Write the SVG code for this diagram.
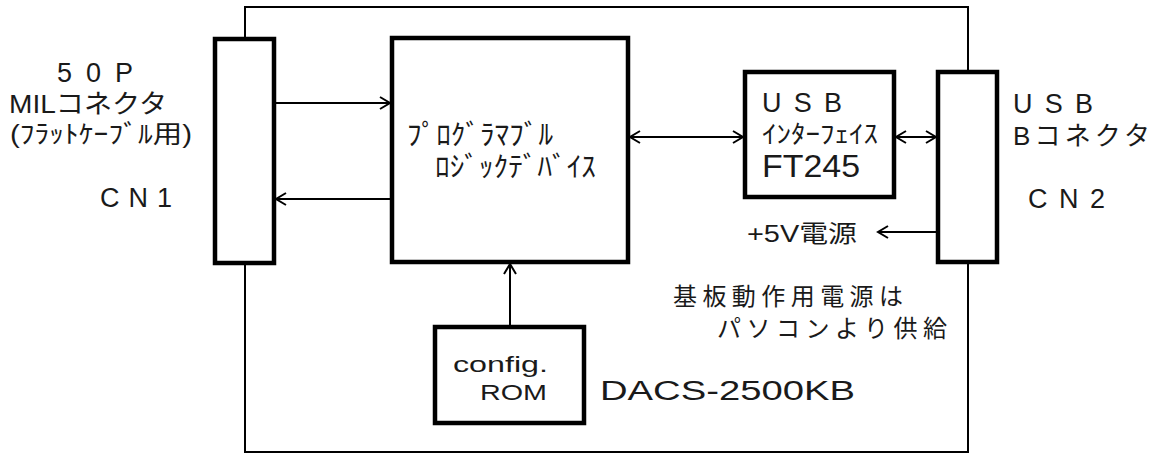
<svg xmlns="http://www.w3.org/2000/svg" width="1164" height="456" viewBox="0 0 1164 456">
<style>
.box{fill:#fff;stroke:#000;stroke-width:4.5}
.board{fill:none;stroke:#000;stroke-width:2}
.conn{fill:none;stroke:#000;stroke-width:2}
.t{font-family:"Liberation Sans","Noto Sans CJK JP",sans-serif;fill:#1a1a1a}
</style>
<defs>
<marker id="ah" markerUnits="userSpaceOnUse" markerWidth="14" markerHeight="14" refX="11" refY="7" orient="auto-start-reverse" viewBox="0 0 14 14">
<path d="M1,1 L11,7 L1,13" fill="none" stroke="#000" stroke-width="2"/>
</marker>
</defs>
<rect id="board" class="board" x="245" y="7" width="723" height="445"/>
<g id="connectors">
<line class="conn" x1="276" y1="103" x2="390" y2="103" marker-end="url(#ah)"/>
<line class="conn" x1="390" y1="199" x2="276" y2="199" marker-end="url(#ah)"/>
<line class="conn" x1="630" y1="137" x2="743" y2="137" marker-start="url(#ah)" marker-end="url(#ah)"/>
<line class="conn" x1="896" y1="137" x2="936" y2="137" marker-start="url(#ah)" marker-end="url(#ah)"/>
<line class="conn" x1="936" y1="232" x2="878" y2="232" marker-end="url(#ah)"/>
<line class="conn" x1="510" y1="325" x2="510" y2="264" marker-end="url(#ah)"/>
</g>
<g id="cn1">
<rect class="box" x="215" y="39" width="59" height="224"/>
</g>
<g id="pld">
<rect class="box" x="392" y="38" width="236" height="224"/>
<text class="t" x="407" y="145" font-size="28" textLength="146" lengthAdjust="spacingAndGlyphs">ﾌﾟﾛｸﾞﾗﾏﾌﾞﾙ</text>
<text class="t" x="435" y="177" font-size="28" textLength="161" lengthAdjust="spacingAndGlyphs">ﾛｼﾞｯｸﾃﾞﾊﾞｲｽ</text>
</g>
<g id="usbif">
<rect class="box" x="745" y="72" width="149" height="125"/>
<text class="t" x="762" y="112" font-size="27" textLength="80" lengthAdjust="spacing">USB</text>
<text class="t" x="762" y="143" font-size="25" textLength="116" lengthAdjust="spacingAndGlyphs">ｲﾝﾀｰﾌｪｲｽ</text>
<text class="t" x="762" y="177" font-size="31" textLength="98" lengthAdjust="spacingAndGlyphs">FT245</text>
</g>
<g id="cn2">
<rect class="box" x="938" y="72" width="59" height="190"/>
</g>
<g id="rom">
<rect class="box" x="435" y="327" width="149" height="96"/>
<text class="t" x="453" y="372" font-size="22" textLength="95" lengthAdjust="spacingAndGlyphs">config.</text>
<text class="t" x="480" y="400" font-size="22" textLength="67" lengthAdjust="spacingAndGlyphs">ROM</text>
</g>
<g id="labels">
<text class="t" x="57" y="82" font-size="27" textLength="76" lengthAdjust="spacing">50P</text>
<text class="t" x="9" y="113" font-size="26" textLength="158" lengthAdjust="spacingAndGlyphs">MILコネクタ</text>
<text class="t" x="10" y="143" font-size="25" textLength="182" lengthAdjust="spacingAndGlyphs">(ﾌﾗｯﾄｹｰﾌﾞﾙ用)</text>
<text class="t" x="100" y="207" font-size="27" textLength="72" lengthAdjust="spacing">CN1</text>
<text class="t" x="1013" y="113" font-size="27" textLength="80" lengthAdjust="spacing">USB</text>
<text class="t" x="1013" y="145" font-size="26" textLength="137" lengthAdjust="spacing">Bコネクタ</text>
<text class="t" x="1028" y="208" font-size="27" textLength="77" lengthAdjust="spacing">CN2</text>
<text class="t" x="747" y="242" font-size="24" textLength="110" lengthAdjust="spacingAndGlyphs">+5V電源</text>
<text class="t" x="673" y="305" font-size="24" textLength="230" lengthAdjust="spacing">基板動作用電源は</text>
<text class="t" x="717" y="337" font-size="24" textLength="230" lengthAdjust="spacing">パソコンより供給</text>
<text class="t" x="600" y="400" font-size="27" textLength="255" lengthAdjust="spacingAndGlyphs">DACS-2500KB</text>
</g>
</svg>
